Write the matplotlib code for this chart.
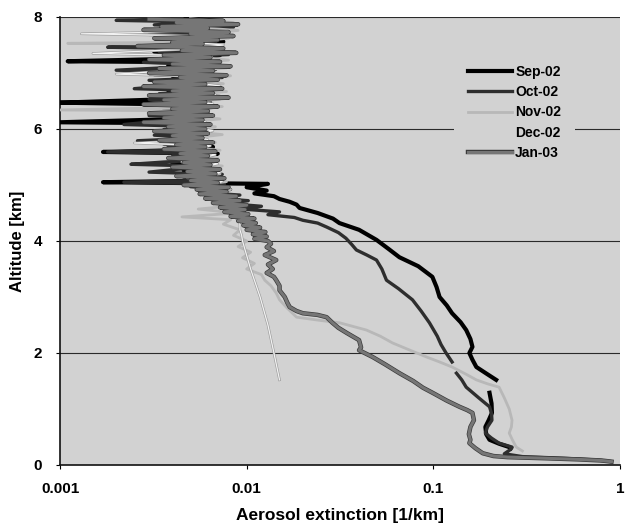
import numpy as np
import matplotlib
matplotlib.use("Agg")
import matplotlib.pyplot as plt
import matplotlib.patheffects as pe
from matplotlib.ticker import FixedLocator, FixedFormatter, NullLocator

nan = np.nan

# ---------------- data (altitude km, extinction 1/km) ----------------
sep_alt = [7.98, 7.93, 7.87, 7.80, 7.74, 7.68, 7.62, 7.56, 7.50, 7.44, 7.38, 7.32, 7.26, 7.21, 7.19,
           7.13, 7.07, 7.01, 6.95, 6.89, 6.83, 6.77, 6.71, 6.65, 6.59, 6.53, 6.47, 6.45, 6.43, 6.37,
           6.31, 6.25, 6.19, 6.12, 6.10, 6.04, 5.98, 5.92, 5.86, 5.80, 5.74, 5.68, 5.62, 5.59, 5.56,
           5.50, 5.44, 5.38, 5.32, 5.26, 5.20, 5.14, 5.08, 5.05, 5.02, 4.96, 4.90, 4.85, 4.80, 4.75,
           4.70, 4.65, 4.59, 4.50, 4.40, 4.32, 4.20, 4.02, 3.85, 3.71, 3.55, 3.36, 3.18, 3.00, 2.85,
           2.71, 2.55, 2.41, 2.25, 2.11, 2.00, 1.88, 1.75, 1.62, 1.52, 1.40, 1.29, 1.10, 0.93, 0.80,
           0.68, 0.55, 0.45, 0.38, 0.32, 0.30]
sep_ext = [0.0040, 0.0075, 0.0045, 0.0080, 0.0040, 0.0068, 0.0035, 0.0075, 0.0050, 0.0065, 0.0032, 0.0072, 0.0050, 0.0011, 0.0060,
           0.0038, 0.0068, 0.0035, 0.0070, 0.0040, 0.0064, 0.0034, 0.0066, 0.0038, 0.0060, 0.0036, 0.0010, 0.0025, 0.0062, 0.0038,
           0.0060, 0.0036, 0.0058, 0.0010, 0.0055, 0.0062, 0.0038, 0.0064, 0.0040, 0.0060, 0.0036, 0.0066, 0.0042, 0.0017, 0.0070,
           0.0046, 0.0066, 0.0040, 0.0070, 0.0046, 0.0068, 0.0048, 0.0072, 0.0017, 0.0130, 0.0100, 0.0128, 0.0110, 0.0140, 0.0150,
           0.0170, 0.0185, 0.0192, 0.0240, 0.0290, 0.0314, 0.0400, 0.0496, 0.0580, 0.0658, 0.0830, 0.0988, 0.1040, 0.1080, 0.1180,
           0.1260, 0.1400, 0.1500, 0.1580, 0.1620, 0.1560, 0.1620, 0.1700, 0.1950, 0.2170, nan, 0.2000, 0.2050, 0.2060, 0.1980,
           0.1900, 0.1920, 0.2000, 0.2250, 0.2550, 0.2600]

oct_alt = [7.97, 7.94, 7.91, 7.86, 7.82, 7.77, 7.73, 7.69, 7.64, 7.59, 7.55, 7.50, 7.46, 7.43, 7.38,
           7.33, 7.28, 7.24, 7.19, 7.14, 7.10, 7.05, 7.02, 6.97, 6.92, 6.87, 6.82, 6.77, 6.72, 6.68,
           6.63, 6.58, 6.53, 6.48, 6.43, 6.39, 6.34, 6.29, 6.24, 6.19, 6.14, 6.08, 6.04, 5.99, 5.94,
           5.89, 5.84, 5.79, 5.74, 5.69, 5.64, 5.59, 5.56, 5.51, 5.46, 5.41, 5.37, 5.33, 5.28, 5.23,
           5.19, 5.14, 5.09, 5.05, 5.02, 4.97, 4.92, 4.87, 4.82, 4.77, 4.72, 4.67, 4.62, 4.57, 4.52,
           4.47, 4.42, 4.37, 4.32, 4.25, 4.15, 4.05, 3.94, 3.84, 3.75, 3.66, 3.50, 3.30, 3.15, 2.95,
           2.75, 2.54, 2.30, 2.15, 2.00, 1.84, 1.74, 1.64, 1.52, 1.39, 1.20, 1.04, 0.92, 0.80, 0.68,
           0.57, 0.48, 0.39, 0.32, 0.28, 0.20, 0.15, 0.12, 0.09, 0.06]
oct_ext = [0.0045, 0.0020, 0.0065, 0.0032, 0.0085, 0.0042, 0.0070, 0.0030, 0.0078, 0.0040, 0.0068, 0.0032, 0.0018, 0.0062, 0.0034,
           0.0080, 0.0036, 0.0068, 0.0028, 0.0072, 0.0040, 0.0020, 0.0065, 0.0032, 0.0074, 0.0030, 0.0066, 0.0038, 0.0025, 0.0070,
           0.0034, 0.0072, 0.0030, 0.0064, 0.0028, 0.0068, 0.0036, 0.0062, 0.0030, 0.0066, 0.0034, 0.0022, 0.0062, 0.0036, 0.0064,
           0.0032, 0.0058, 0.0026, 0.0064, 0.0038, 0.0066, 0.0018, 0.0060, 0.0040, 0.0068, 0.0036, 0.0024, 0.0070, 0.0042, 0.0030,
           0.0074, 0.0046, 0.0070, 0.0022, 0.0076, 0.0050, 0.0082, 0.0056, 0.0092, 0.0064, 0.0102, 0.0078, 0.0120, 0.0095, 0.0150,
           0.0130, 0.0180, 0.0200, 0.0240, 0.0268, 0.0310, 0.0340, 0.0365, 0.0387, 0.0440, 0.0496, 0.0530, 0.0561, 0.0650, 0.0773,
           0.0860, 0.0953, 0.1050, 0.1100, 0.1170, 0.1260, nan, 0.1330, 0.1420, 0.1500, 0.1750, 0.2000, 0.2050, 0.2060, 0.1950,
           0.1900, 0.2050, 0.2250, 0.2640, 0.2600, 0.2400, 0.3000, 0.5000, 0.7500, 0.9000]

nov_alt = [7.97, 7.90, 7.83, 7.76, 7.69, 7.62, 7.55, 7.53, 7.51, 7.44, 7.37, 7.30, 7.23, 7.16, 7.09,
           7.02, 6.95, 6.88, 6.81, 6.74, 6.67, 6.60, 6.53, 6.46, 6.40, 6.34, 6.32, 6.25, 6.18, 6.11,
           6.04, 5.97, 5.90, 5.83, 5.76, 5.69, 5.62, 5.55, 5.48, 5.41, 5.34, 5.27, 5.20, 5.13, 5.06,
           4.99, 4.92, 4.85, 4.78, 4.71, 4.64, 4.57, 4.50, 4.43, 4.38, 4.30, 4.20, 4.10, 4.00, 3.90,
           3.80, 3.70, 3.60, 3.50, 3.40, 3.30, 3.20, 3.07, 2.95, 2.80, 2.64, 2.58, 2.54, 2.41, 2.30,
           2.18, 2.05, 1.93, 1.84, 1.75, 1.62, 1.52, 1.45, 1.39, 1.20, 1.00, 0.80, 0.68, 0.57, 0.45,
           0.32, 0.25]
nov_ext = [0.0050, 0.0085, 0.0045, 0.0090, 0.0055, 0.0080, 0.0045, 0.0011, 0.0075, 0.0045, 0.0085, 0.0050, 0.0080, 0.0042, 0.0078,
           0.0048, 0.0082, 0.0050, 0.0075, 0.0042, 0.0078, 0.0048, 0.0072, 0.0040, 0.0074, 0.0010, 0.0062, 0.0045, 0.0072, 0.0042,
           0.0068, 0.0045, 0.0074, 0.0048, 0.0068, 0.0042, 0.0072, 0.0048, 0.0070, 0.0045, 0.0074, 0.0050, 0.0072, 0.0048, 0.0078,
           0.0052, 0.0082, 0.0060, 0.0088, 0.0065, 0.0092, 0.0055, 0.0088, 0.0045, 0.0082, 0.0075, 0.0092, 0.0085, 0.0100, 0.0090,
           0.0105, 0.0095, 0.0110, 0.0100, 0.0120, 0.0125, 0.0135, 0.0144, 0.0150, 0.0165, 0.0185, 0.0250, 0.0314, 0.0438, 0.0520,
           0.0604, 0.0750, 0.0918, 0.1080, 0.1260, 0.1500, 0.1700, 0.1950, 0.2250, 0.2400, 0.2550, 0.2640, 0.2620, 0.2550, 0.2650,
           0.2780, 0.3000]

dec_alt = [7.98, 7.90, 7.82, 7.75, 7.70, 7.66, 7.58, 7.50, 7.42, 7.35, 7.30, 7.22, 7.14, 7.06, 6.98,
           6.93, 6.85, 6.77, 6.69, 6.61, 6.53, 6.45, 6.37, 6.29, 6.21, 6.13, 6.05, 5.97, 5.89, 5.81,
           5.75, 5.70, 5.62, 5.54, 5.46, 5.38, 5.30, 5.22, 5.14, 5.06, 4.98, 4.90, 4.80, 4.70, 4.60,
           4.50, 4.40, 4.30, 4.20, 4.10, 4.00, 3.50, 3.00, 2.50, 2.00, 1.52]
dec_ext = [0.0030, 0.0060, 0.0035, 0.0070, 0.0013, 0.0060, 0.0040, 0.0075, 0.0045, 0.0015, 0.0065, 0.0042, 0.0070, 0.0048, 0.0020,
           0.0066, 0.0045, 0.0072, 0.0050, 0.0068, 0.0040, 0.0066, 0.0048, 0.0062, 0.0044, 0.0060, 0.0048, 0.0066, 0.0050, 0.0062,
           0.0025, 0.0064, 0.0052, 0.0068, 0.0054, 0.0070, 0.0056, 0.0072, 0.0058, 0.0074, 0.0060, 0.0076, 0.0070, 0.0085, 0.0080,
           0.0090, 0.0088, 0.0092, 0.0092, 0.0094, 0.0095, 0.0105, 0.0118, 0.0130, 0.0140, 0.0150]

jan_alt = [7.96, 7.93, 7.90, 7.87, 7.83, 7.80, 7.77, 7.73, 7.70, 7.66, 7.62, 7.59, 7.55, 7.52, 7.48,
           7.44, 7.40, 7.36, 7.32, 7.28, 7.24, 7.20, 7.16, 7.12, 7.08, 7.04, 7.00, 6.96, 6.92, 6.88,
           6.84, 6.80, 6.76, 6.72, 6.68, 6.64, 6.60, 6.56, 6.52, 6.48, 6.44, 6.40, 6.36, 6.32, 6.28,
           6.24, 6.20, 6.16, 6.12, 6.08, 6.04, 6.00, 5.96, 5.92, 5.88, 5.84, 5.80, 5.76, 5.72, 5.68,
           5.64, 5.60, 5.56, 5.52, 5.48, 5.44, 5.40, 5.36, 5.32, 5.28, 5.24, 5.20, 5.16, 5.12, 5.08,
           5.04, 5.00, 4.96, 4.92, 4.88, 4.84, 4.80, 4.76, 4.72, 4.68, 4.64, 4.60, 4.56, 4.52, 4.48,
           4.44, 4.40, 4.36, 4.32, 4.28, 4.24, 4.20, 4.16, 4.12, 4.08, 4.04, 4.00, 3.95, 3.89, 3.82,
           3.75, 3.66, 3.58, 3.50, 3.43, 3.36, 3.30, 3.20, 3.12, 3.00, 2.90, 2.82, 2.75, 2.71, 2.68,
           2.64, 2.54, 2.45, 2.36, 2.23, 2.10, 2.05, 1.93, 1.80, 1.64, 1.50, 1.38, 1.29, 1.15, 1.04,
           0.98, 0.93, 0.80, 0.68, 0.55, 0.45, 0.39, 0.30, 0.21, 0.16, 0.14, 0.12, 0.10, 0.08, 0.06]
jan_ext = [0.0030, 0.0075, 0.0042, 0.0090, 0.0035, 0.0062, 0.0028, 0.0080, 0.0050, 0.0085, 0.0032, 0.0070, 0.0040, 0.0058, 0.0026,
           0.0075, 0.0045, 0.0088, 0.0036, 0.0064, 0.0030, 0.0072, 0.0040, 0.0082, 0.0034, 0.0066, 0.0030, 0.0078, 0.0044, 0.0070,
           0.0032, 0.0060, 0.0028, 0.0074, 0.0040, 0.0066, 0.0030, 0.0080, 0.0036, 0.0060, 0.0028, 0.0070, 0.0040, 0.0062, 0.0030,
           0.0066, 0.0036, 0.0058, 0.0028, 0.0064, 0.0038, 0.0060, 0.0032, 0.0062, 0.0040, 0.0058, 0.0034, 0.0066, 0.0042, 0.0060,
           0.0036, 0.0068, 0.0044, 0.0062, 0.0038, 0.0070, 0.0046, 0.0064, 0.0040, 0.0072, 0.0048, 0.0068, 0.0042, 0.0076, 0.0050,
           0.0070, 0.0046, 0.0080, 0.0054, 0.0078, 0.0056, 0.0088, 0.0060, 0.0092, 0.0066, 0.0100, 0.0072, 0.0098, 0.0076, 0.0102,
           0.0082, 0.0110, 0.0090, 0.0112, 0.0096, 0.0118, 0.0100, 0.0126, 0.0108, 0.0128, 0.0110, 0.0130, 0.0135, 0.0128, 0.0140,
           0.0125, 0.0144, 0.0130, 0.0138, 0.0128, 0.0140, 0.0144, 0.0150, 0.0150, 0.0160, 0.0165, 0.0170, 0.0185, 0.0200, 0.0240,
           0.0268, 0.0288, 0.0310, 0.0343, 0.0400, 0.0410, 0.0400, 0.0472, 0.0550, 0.0658, 0.0780, 0.0880, 0.0990, 0.1180, 0.1380,
           0.1520, 0.1620, 0.1650, 0.1580, 0.1550, 0.1580, 0.1560, 0.1680, 0.1840, 0.2100, 0.2500, 0.4000, 0.6000, 0.8000, 0.9000]

labels = ["Sep-02", "Oct-02", "Nov-02", "Dec-02", "Jan-03"]
x_ticks = [0.001, 0.01, 0.1, 1]
x_tick_labels = ["0.001", "0.01", "0.1", "1"]
y_ticks = [0, 2, 4, 6, 8]

# ---------------- figure ----------------
plt.rcParams['font.family'] = ['Liberation Sans', 'DejaVu Sans']
BG = '#d2d2d2'

fig = plt.figure(figsize=(6.27, 5.28), dpi=100)
ax = fig.add_axes([60 / 627, 1 - 465 / 528, 560 / 627, 448 / 528])
ax.set_facecolor(BG)

for y in [2, 4, 6, 8]:
    ax.axhline(y, color='#2a2a2a', lw=0.8, zorder=1)

ax.plot(sep_ext, sep_alt, color='#000000', lw=3.0, label=labels[0], zorder=3,
        solid_joinstyle='round')
ax.plot(oct_ext, oct_alt, color='#2e2e2e', lw=2.4, label=labels[1], zorder=3,
        solid_joinstyle='round')
ax.plot(nov_ext, nov_alt, color='#b8b8b8', lw=2.0, label=labels[2], zorder=3,
        solid_joinstyle='round')
ax.plot(dec_ext, dec_alt, color='#f2f2f2', lw=0.9, label=labels[3], zorder=3,
        solid_joinstyle='round',
        path_effects=[pe.Stroke(linewidth=1.8, foreground='#9a9a9a'), pe.Normal()])
ax.plot(jan_ext, jan_alt, color='#767676', lw=2.2, label=labels[4], zorder=4,
        solid_joinstyle='round',
        path_effects=[pe.Stroke(linewidth=3.2, foreground='#3a3a3a'), pe.Normal()])

ax.set_xscale('log')
ax.set_xlim(0.001, 1)
ax.set_ylim(0, 8)
ax.xaxis.set_major_locator(FixedLocator(x_ticks))
ax.xaxis.set_major_formatter(FixedFormatter(x_tick_labels))
ax.xaxis.set_minor_locator(NullLocator())
ax.set_yticks(y_ticks)
ax.set_yticklabels([str(v) for v in y_ticks])

for s in ['top', 'right']:
    ax.spines[s].set_visible(False)
for s in ['left', 'bottom']:
    ax.spines[s].set_color('#111111')
    ax.spines[s].set_linewidth(1.2)

ax.tick_params(axis='x', direction='out', length=3, width=0.8, pad=9,
               labelsize=11)
ax.tick_params(axis='y', direction='out', length=3, width=0.8, pad=10,
               labelsize=11)
for lab in ax.get_xticklabels() + ax.get_yticklabels():
    lab.set_fontweight('bold')

ax.set_xlabel('Aerosol extinction [1/km]', fontsize=12.5, fontweight='bold', labelpad=9)
ax.set_ylabel('Altitude [km]', fontsize=12, fontweight='bold', labelpad=6)

leg = ax.legend(loc='upper left', bbox_to_anchor=(0.7036, 0.924), frameon=True,
                facecolor=BG, edgecolor='none', framealpha=1, fancybox=False,
                prop={'weight': 'bold', 'size': 10}, handlelength=3.2,
                handletextpad=0.2, labelspacing=0.45, borderpad=1.0,
                borderaxespad=0)
leg.set_zorder(6)
leg.legend_handles[3].set_visible(False)

fig.savefig('out.png', dpi=100)
